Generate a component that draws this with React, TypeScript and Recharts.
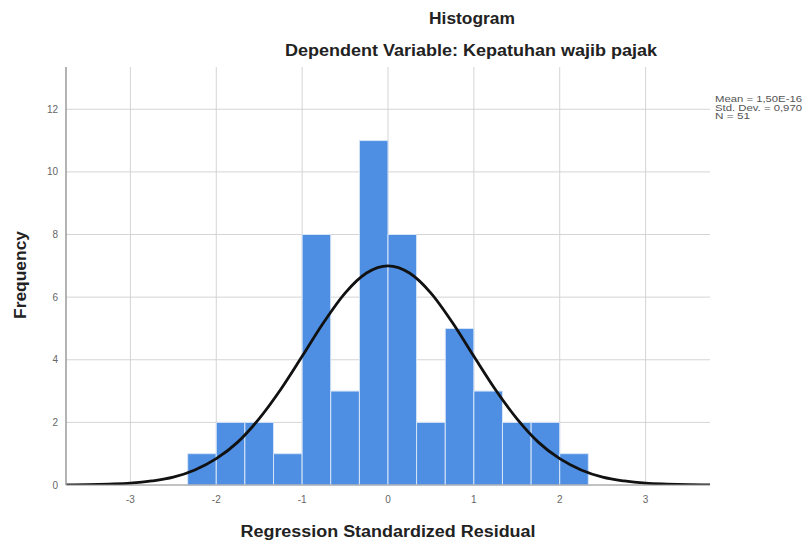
import React from "react";
import {
  ComposedChart,
  Line,
  XAxis,
  YAxis,
  CartesianGrid,
  ReferenceArea,
} from "recharts";

// Histogram bins (lower edge, upper edge) and frequencies
const binLow = [-2.333, -2.0, -1.667, -1.333, -1.0, -0.667, -0.333, 0.0, 0.333, 0.667, 1.0, 1.333, 1.667, 2.0];
const binHigh = [-2.0, -1.667, -1.333, -1.0, -0.667, -0.333, 0.0, 0.333, 0.667, 1.0, 1.333, 1.667, 2.0, 2.333];
const frequency = [1, 2, 2, 1, 8, 3, 11, 8, 2, 5, 3, 2, 2, 1];

// Normal curve
const curveX = [-3.75, -3.5, -3.25, -3, -2.75, -2.5, -2.25, -2, -1.75, -1.5, -1.25, -1, -0.75, -0.5, -0.25, 0, 0.25, 0.5, 0.75, 1, 1.25, 1.5, 1.75, 2, 2.25, 2.5, 2.75, 3, 3.25, 3.5, 3.75];
const curveY = [0.0, 0.01, 0.03, 0.06, 0.13, 0.25, 0.48, 0.84, 1.37, 2.12, 3.05, 4.11, 5.19, 6.13, 6.77, 7.0, 6.77, 6.13, 5.19, 4.11, 3.05, 2.12, 1.37, 0.84, 0.48, 0.25, 0.13, 0.06, 0.03, 0.01, 0.0];

const xTicks = [-3, -2, -1, 0, 1, 2, 3];
const yTicks = [0, 2, 4, 6, 8, 10, 12];

const titleText = "Histogram";
const subtitleText = "Dependent Variable: Kepatuhan wajib pajak";
const xLabel = "Regression Standardized Residual";
const yLabel = "Frequency";
const statsLines = ["Mean = 1,50E-16", "Std. Dev. = 0,970", "N = 51"];

const curveData = curveX.map((x, i) => ({ x, y: curveY[i] }));

const FONT = "'Liberation Sans', Arial, sans-serif";

export default function App() {
  return (
    <div
      style={{
        position: "absolute",
        left: 0,
        top: 0,
        width: 811,
        height: 546,
        background: "#ffffff",
        fontFamily: FONT,
      }}
    >
      <ComposedChart
        width={811}
        height={546}
        data={curveData}
        margin={{ top: 67, right: 101, bottom: 31, left: 6 }}
      >
        <CartesianGrid
          stroke="#d4d4d4"
          strokeWidth={1}
          horizontalValues={yTicks}
          verticalValues={xTicks}
        />
        <XAxis
          type="number"
          dataKey="x"
          domain={[-3.75, 3.75]}
          ticks={xTicks}
          allowDataOverflow
          height={30}
          axisLine={{ stroke: "#9a9a9a", strokeWidth: 1 }}
          tickLine={false}
          tickMargin={5}
          tick={{ fontSize: 10, fill: "#666666", fontFamily: FONT }}
        />
        <YAxis
          type="number"
          domain={[0, 13.35]}
          ticks={yTicks}
          allowDataOverflow
          width={60}
          axisLine={{ stroke: "#9a9a9a", strokeWidth: 1.5 }}
          tickLine={false}
          tick={{ fontSize: 10, fill: "#666666", fontFamily: FONT }}
        />
        {frequency.map((f, i) => (
          <ReferenceArea
            key={i}
            x1={binLow[i]}
            x2={binHigh[i]}
            y1={0}
            y2={f}
            fill="#4e8fe4"
            fillOpacity={1}
            stroke="#d6e4f7"
            strokeWidth={1}
          />
        ))}
        <Line
          type="monotone"
          dataKey="y"
          stroke="#111111"
          strokeWidth={2.8}
          dot={false}
          activeDot={false}
          isAnimationActive={false}
        />
      </ComposedChart>
      <svg
        width={811}
        height={546}
        style={{ position: "absolute", left: 0, top: 0, pointerEvents: "none" }}
      >
        <text x={472} y={24} textAnchor="middle" fontSize={17} fontWeight="bold" fill="#222" fontFamily={FONT}
          textLength={86} lengthAdjust="spacingAndGlyphs">
          {titleText}
        </text>
        <text x={471} y={56} textAnchor="middle" fontSize={16} fontWeight="bold" fill="#222" fontFamily={FONT}
          textLength={372} lengthAdjust="spacingAndGlyphs">
          {subtitleText}
        </text>
        <text x={388} y={537} textAnchor="middle" fontSize={16} fontWeight="bold" fill="#222" fontFamily={FONT}
          textLength={295} lengthAdjust="spacingAndGlyphs">
          {xLabel}
        </text>
        <text
          x={26}
          y={275}
          textAnchor="middle"
          fontSize={17}
          fontWeight="bold"
          fill="#222"
          fontFamily={FONT}
          textLength={88}
          lengthAdjust="spacingAndGlyphs"
          transform="rotate(-90 26 275)"
        >
          {yLabel}
        </text>
        {statsLines.map((s, i) => (
          <text
            key={s}
            x={715}
            y={102 + i * 8.5}
            fontSize={9}
            fill="#555"
            fontFamily={FONT}
            textLength={i === 2 ? 35 : 87}
            lengthAdjust="spacingAndGlyphs"
          >
            {s}
          </text>
        ))}
      </svg>
    </div>
  );
}
